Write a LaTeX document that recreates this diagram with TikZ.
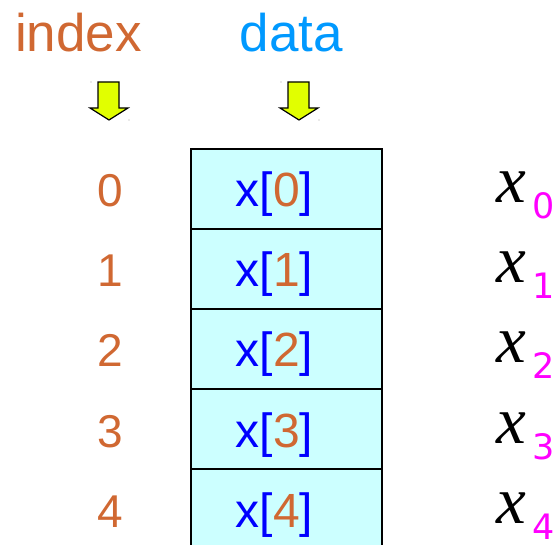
\documentclass[tikz,border=0pt]{standalone}
\usepackage{fontspec}
\setmainfont{Liberation Sans}
\newfontfamily\serifx{Liberation Serif}
\newfontfamily\subfont{DejaVu Sans}
\definecolor{idxc}{RGB}{208,104,50}
\definecolor{datac}{RGB}{0,153,255}
\definecolor{cellc}{RGB}{204,255,255}
\definecolor{arrc}{RGB}{225,255,0}
\definecolor{xblue}{RGB}{0,0,255}
\definecolor{magc}{RGB}{255,0,255}
\tikzset{
  head/.style={anchor=base,inner sep=0pt,font=\fontsize{53}{60}\selectfont},
  idx/.style={anchor=base,inner sep=0pt,text=idxc,font=\fontsize{46}{52}\selectfont},
  cell/.style={anchor=base west,inner sep=0pt,text=xblue,font=\fontsize{48}{54}\selectfont},
  mathx/.style={anchor=base west,inner sep=0pt,font=\serifx\itshape\fontsize{67}{72}\selectfont},
  subx/.style={anchor=base west,inner sep=0pt,text=magc,font=\subfont\fontsize{35}{40}\selectfont},
  downarrow/.style={draw=black,line width=1.2pt,fill=arrc,line join=miter},
  cellbox/.style={draw=black,line width=1.4pt,fill=cellc},
  speck/.style={fill=gray!70,inner sep=0pt,minimum size=1.2pt,circle}
}
\begin{document}
\begin{tikzpicture}[x=1pt,y=-1pt]
\useasboundingbox (0,0) rectangle (560,545);
\clip (0,0) rectangle (560,545);
% headers
\node[head,text=idxc] (hidx) at (78.5,52) {index};
\node[head,text=datac] (hdata) at (291.5,52) {data};
% arrows
\draw[downarrow] (98,82) -- (119,82) -- (119,108) -- (128,108) -- (109,120) -- (90,108) -- (98,108) -- cycle;
\draw[downarrow] (288,82) -- (309,82) -- (309,108) -- (318,108) -- (299,120) -- (280,108) -- (288,108) -- cycle;
\node[speck] (s1) at (91,82) {};
\node[speck] (s2) at (129,120) {};
\node[speck] (s3) at (281,82) {};
\node[speck] (s4) at (319,120) {};
% cells
\foreach \k in {0,...,4}{
  \draw[cellbox] (191,149+80*\k) rectangle (382,229+80*\k);
}
\foreach \k in {0,...,4}{
  \node[idx] (i\k) at (110.5,207+80*\k) {\k};
  \node[cell] (c\k) at (235.5,207+80*\k) {x[\textcolor{idxc}{\k}]};
  \node[mathx] (m\k) at (496,203+80*\k) {x};
  \node[subx] (q\k) at (532,219+80*\k) {\k};
}
\end{tikzpicture}
\end{document}
